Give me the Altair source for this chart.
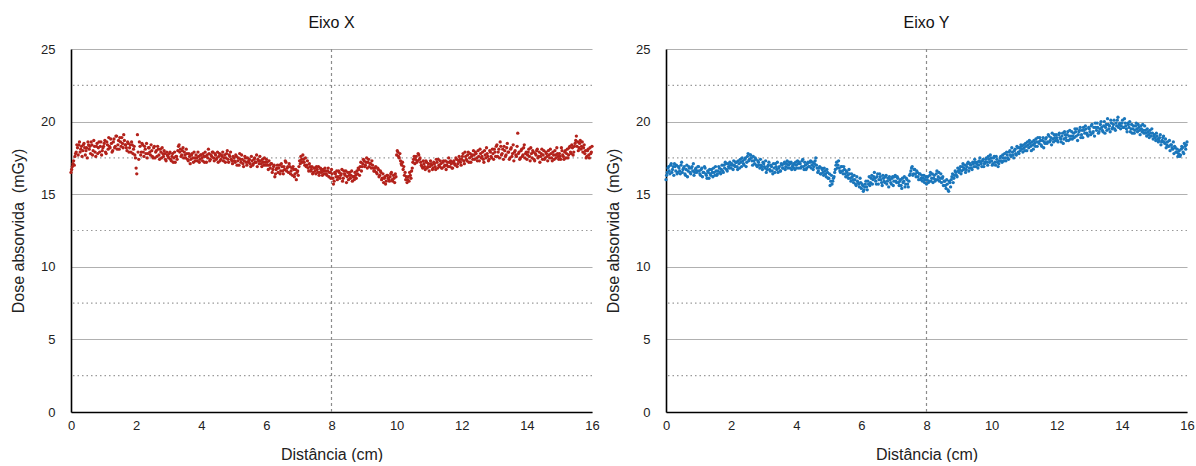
import altair as alt
import pandas as pd

# ---------------- data ----------------
STEP_CM = 0.04    # spacing of the sampled positions along the distance axis
MID_SHIFT = 0.02  # second set of readings sits half a step later

# Eixo X panel: dose (mGy) at 0.00, 0.04, ... cm (one row per centimetre)
dose_eixo_x = [
    16.5, 16.9, 17.3, 17.6, 17.9, 18.2, 18.4, 17.9, 18.3, 18.0, 18.5, 17.7, 18.2, 18.6, 18.1, 17.8, 18.4, 18.0, 18.3, 17.6, 18.5, 18.2, 17.9, 18.6, 18.0,
    18.3, 18.7, 17.8, 18.4, 18.9, 18.2, 18.5, 18.0, 18.8, 18.3, 19.0, 18.4, 18.1, 18.6, 18.9, 18.2, 18.7, 18.4, 18.0, 18.5, 18.2, 17.9, 18.4, 18.1, 17.7,
    16.8, 19.1, 17.4, 18.3, 17.9, 18.4, 17.6, 18.1, 18.5, 17.8, 18.2, 17.7, 18.0, 17.5, 18.3, 17.9, 17.6, 18.1, 17.4, 17.9, 18.2, 17.6, 17.8, 17.3, 17.7,
    17.5, 17.9, 17.3, 17.8, 17.5, 17.2, 17.6, 18.0, 18.4, 18.1, 17.7, 18.2, 17.9, 17.5, 17.8, 17.3, 17.6, 17.4, 17.8, 17.2, 17.5, 17.7, 17.3, 17.6, 17.4,
    17.7, 17.3, 17.6, 17.9, 17.2, 17.5, 17.8, 17.4, 17.6, 17.9, 17.3, 17.7, 17.5, 17.2, 17.8, 17.4, 17.6, 17.3, 17.7, 17.5, 18.0, 17.2, 17.6, 17.4, 17.1,
    17.5, 17.2, 17.6, 17.3, 17.0, 17.4, 17.7, 17.1, 17.3, 17.5, 17.0, 17.2, 17.4, 16.9, 17.3, 17.1, 17.5, 17.2, 16.9, 17.3, 17.6, 17.1, 17.4, 17.0, 17.2,
    17.4, 17.0, 17.3, 16.8, 17.1, 16.7, 17.0, 16.4, 16.8, 16.5, 17.0, 16.6, 16.9, 16.4, 16.7, 17.2, 16.8, 16.5, 16.9, 16.6, 16.3, 16.7, 16.4, 16.0, 16.6,
    16.9, 17.1, 17.4, 17.7, 17.2, 17.5, 17.0, 16.8, 17.1, 16.6, 16.9, 16.5, 16.8, 16.4, 16.7, 16.9, 16.5, 16.7, 16.3, 16.6, 16.8, 16.4, 16.6, 16.2, 16.5,
    16.7, 16.1, 15.9, 16.4, 16.6, 16.2, 16.5, 16.3, 16.7, 16.1, 16.4, 16.6, 16.2, 16.0, 16.5, 16.3, 15.9, 16.2, 16.5, 16.1, 16.4, 16.7, 16.9, 16.6, 17.1,
    17.3, 17.0, 17.5, 17.2, 16.9, 17.1, 17.3, 16.8, 16.6, 16.9, 16.4, 16.7, 16.3, 16.5, 16.1, 15.8, 16.2, 15.9, 16.3, 16.0, 16.2, 16.5, 15.9, 16.1, 16.4,
    17.7, 17.9, 17.5, 17.3, 17.0, 16.7, 16.3, 16.0, 15.8, 16.2, 16.5, 16.1, 16.8, 17.4, 17.1, 17.6, 17.3, 17.7, 17.5, 17.0, 16.8, 17.1, 16.7, 17.2, 16.9,
    16.6, 17.3, 17.0, 16.8, 17.1, 16.7, 17.2, 17.4, 16.9, 17.1, 16.8, 17.3, 17.0, 16.7, 17.2, 17.5, 16.9, 17.1, 16.8, 17.3, 17.0, 17.4, 17.1, 17.6, 17.2,
    17.4, 17.8, 17.1, 17.6, 17.3, 17.9, 17.5, 17.2, 17.7, 18.0, 17.4, 17.8, 17.3, 17.6, 18.1, 17.5, 17.9, 17.2, 17.7, 18.2, 17.6, 17.4, 17.9, 17.5, 17.8,
    18.1, 17.6, 18.4, 17.9, 17.5, 18.3, 17.8, 17.4, 18.0, 17.7, 18.5, 17.9, 17.5, 18.2, 17.8, 17.3, 18.0, 17.6, 19.2, 17.9, 17.5, 18.1, 17.7, 18.4, 17.8,
    17.4, 17.9, 17.6, 18.2, 17.5, 17.9, 17.3, 17.7, 18.1, 17.6, 17.2, 17.8, 17.4, 18.0, 17.5, 17.8, 17.3, 17.7, 18.1, 17.5, 17.9, 17.4, 17.7, 18.2, 17.6,
    17.8, 17.4, 18.0, 17.6, 17.9, 17.5, 18.1, 17.7, 18.3, 17.8, 18.2, 17.9, 18.5, 19.0, 18.6, 18.2, 18.7, 18.3, 17.9, 18.4, 18.0, 17.6, 18.1, 17.5, 17.8,
    18.3,
]

# Eixo X panel: dose (mGy) at 0.02, 0.06, ... cm
dose_eixo_x_mid = [
    16.7, 17.1, 17.0, 17.8, 18.4, 17.7, 18.6, 18.1, 17.6, 18.4, 18.2, 18.0, 17.5, 18.4, 18.3, 18.6, 17.7, 18.7, 17.9, 18.3, 17.8, 18.6, 18.3, 17.7, 18.2,
    18.5, 17.9, 18.6, 18.1, 18.3, 18.8, 17.9, 18.6, 18.2, 19.0, 18.1, 18.7, 18.9, 18.3, 18.5, 19.1, 18.4, 18.2, 18.6, 17.9, 18.4, 18.6, 17.8, 18.3, 17.5,
    16.4, 17.9, 18.6, 17.7, 18.5, 17.9, 18.3, 17.8, 17.5, 18.2, 17.9, 18.4, 17.6, 18.2, 17.5, 18.0, 18.3, 17.7, 18.1, 17.5, 17.8, 18.0, 17.4, 17.9, 17.6,
    17.8, 17.4, 17.6, 17.2, 17.9, 17.6, 17.4, 18.3, 17.9, 17.6, 18.0, 17.5, 17.7, 18.1, 17.4, 17.8, 17.1, 17.7, 17.5, 17.9, 17.3, 17.5, 17.9, 17.2, 17.7,
    17.5, 17.8, 17.2, 17.6, 17.7, 18.1, 17.3, 17.7, 17.9, 17.5, 17.8, 17.4, 17.9, 17.6, 17.3, 17.7, 17.9, 17.5, 17.2, 17.8, 17.4, 17.7, 17.9, 17.3, 17.6,
    17.3, 17.7, 17.0, 17.5, 17.8, 17.2, 17.4, 16.9, 17.6, 17.2, 17.5, 17.3, 17.1, 17.6, 17.0, 17.4, 17.2, 17.7, 17.4, 17.1, 17.3, 16.9, 17.2, 17.5, 17.0,
    17.2, 16.7, 17.0, 17.1, 16.5, 16.9, 16.2, 16.7, 17.0, 16.8, 16.4, 17.1, 16.6, 16.9, 17.3, 16.6, 16.9, 17.1, 16.4, 16.8, 16.9, 16.2, 16.7, 16.5, 16.3,
    17.3, 17.6, 17.2, 17.4, 17.0, 16.9, 17.3, 16.6, 16.9, 16.7, 16.4, 16.8, 16.6, 16.9, 16.5, 16.3, 16.8, 16.5, 16.7, 16.4, 16.6, 16.3, 16.8, 16.5, 16.1,
    16.4, 15.7, 16.5, 16.2, 16.0, 16.6, 16.1, 16.4, 15.9, 16.6, 16.3, 15.8, 16.5, 16.3, 16.1, 16.6, 16.2, 16.0, 16.3, 16.6, 16.8, 16.3, 17.2, 16.9, 17.4,
    16.9, 17.2, 16.8, 17.4, 17.1, 16.8, 17.0, 16.6, 16.8, 16.5, 16.8, 16.2, 16.6, 16.0, 16.4, 16.1, 15.7, 16.3, 16.1, 15.9, 16.4, 16.0, 16.3, 15.8, 16.2,
    18.0, 17.6, 17.8, 17.1, 17.2, 16.9, 16.5, 16.2, 16.0, 15.9, 16.3, 16.6, 17.2, 17.6, 17.4, 17.2, 17.8, 17.4, 17.2, 16.9, 17.3, 16.9, 17.3, 16.8, 17.1,
    16.9, 17.1, 16.7, 17.2, 16.9, 17.4, 16.8, 17.0, 17.3, 16.8, 17.2, 16.9, 17.3, 17.0, 16.9, 17.2, 17.3, 16.8, 17.2, 17.1, 17.5, 16.9, 17.3, 17.4, 17.0,
    17.6, 17.3, 17.9, 17.4, 17.7, 17.2, 17.8, 17.6, 17.4, 17.7, 17.9, 17.5, 18.0, 17.3, 17.8, 17.6, 17.4, 18.0, 17.5, 17.8, 17.3, 18.0, 17.6, 18.1, 17.4,
    17.9, 18.3, 17.6, 18.1, 18.6, 17.7, 18.1, 18.3, 17.6, 18.2, 17.9, 17.4, 18.1, 17.6, 18.4, 17.9, 17.7, 18.3, 17.8, 17.4, 18.0, 17.6, 18.2, 17.5, 17.9,
    17.7, 18.1, 17.3, 17.8, 18.0, 17.4, 17.8, 18.0, 17.5, 17.9, 17.6, 18.1, 17.7, 17.4, 17.9, 17.6, 18.0, 17.5, 17.8, 17.3, 17.7, 18.0, 17.5, 17.8, 17.4,
    17.6, 18.2, 17.7, 17.4, 18.0, 17.8, 17.5, 18.2, 17.9, 18.4, 17.7, 18.3, 18.7, 18.3, 18.0, 18.5, 18.1, 18.6, 18.2, 17.8, 17.5, 18.0, 17.7, 18.2, 17.9,
]

# Eixo Y panel: dose (mGy) at 0.00, 0.04, ... cm
dose_eixo_y = [
    16.0, 16.5, 16.9, 16.4, 17.1, 16.7, 16.3, 16.9, 17.0, 16.5, 16.8, 16.4, 17.2, 16.7, 16.9, 16.3, 17.0, 16.6, 16.8, 16.4, 16.9, 17.1, 16.5, 16.8, 16.6,
    16.9, 16.4, 16.7, 16.2, 16.5, 16.8, 16.3, 16.6, 16.1, 16.4, 16.7, 16.2, 16.5, 16.9, 16.3, 16.6, 16.8, 16.4, 17.0, 16.5, 16.8, 17.1, 16.6, 16.9, 17.2,
    16.8, 17.0, 17.3, 16.9, 17.2, 16.7, 17.1, 17.4, 16.9, 17.3, 17.0, 17.5, 17.2, 17.8, 17.4, 17.7, 17.3, 17.6, 17.1, 17.4, 16.9, 17.2, 16.8, 17.0, 16.7,
    17.1, 16.8, 16.5, 16.9, 17.2, 16.6, 16.9, 16.4, 16.8, 17.1, 16.7, 16.5, 16.9, 16.6, 17.0, 16.8, 17.2, 16.9, 17.3, 17.0, 16.8, 17.2, 16.9, 17.1, 16.7,
    17.0, 17.3, 16.8, 17.1, 16.9, 17.4, 16.7, 17.0, 16.8, 17.2, 16.9, 17.3, 17.0, 16.7, 17.1, 17.5, 16.8, 16.6, 16.9, 16.4, 16.7, 16.3, 16.6, 16.2, 16.5,
    16.1, 15.6, 16.3, 15.9, 16.2, 16.7, 17.2, 17.0, 16.8, 16.5, 16.9, 16.4, 16.7, 16.2, 16.5, 16.1, 16.4, 15.9, 16.2, 15.8, 16.0, 15.6, 15.9, 15.7, 16.1,
    15.4, 15.6, 15.3, 15.7, 15.5, 15.9, 16.2, 15.8, 16.3, 16.0, 16.5, 15.9, 16.2, 15.7, 16.4, 16.0, 15.6, 16.1, 15.8, 16.3, 15.9, 15.5, 16.0, 15.7, 16.2,
    15.9, 16.3, 15.8, 16.1, 15.6, 16.0, 15.4, 15.8, 16.2, 15.7, 16.0, 15.5, 16.3, 16.6, 16.9, 16.4, 16.7, 16.2, 16.5, 16.0, 16.4, 16.1, 15.9, 16.3, 16.0,
    15.7, 16.2, 15.9, 16.5, 16.1, 15.8, 16.3, 16.0, 16.6, 16.2, 15.9, 16.4, 16.1, 15.6, 15.9, 15.4, 15.7, 15.2, 15.8, 16.0, 16.4, 16.1, 16.6, 16.3, 16.8,
    16.5, 16.9, 16.6, 17.1, 16.8, 16.5, 16.9, 17.2, 16.8, 17.0, 16.7, 17.1, 17.4, 16.9, 17.2, 17.0, 17.5, 17.1, 17.3, 16.9, 17.2, 17.5, 17.0, 17.4, 17.7,
    17.3, 17.1, 17.6, 17.0, 17.4, 16.9, 17.3, 17.6, 17.2, 17.5, 17.8, 17.3, 17.7, 17.4, 18.0, 17.6, 17.9, 17.5, 18.1, 17.7, 18.2, 17.8, 18.0, 18.3, 17.9,
    18.2, 18.5, 18.0, 18.4, 18.7, 18.3, 18.6, 18.1, 18.5, 18.8, 18.3, 18.6, 18.9, 18.4, 18.7, 18.2, 18.5, 18.9, 18.6, 19.0, 18.7, 18.4, 18.8, 19.1, 18.7,
    18.9, 18.6, 19.2, 18.8, 19.0, 18.5, 19.3, 18.9, 19.1, 18.7, 19.4, 19.0, 18.8, 19.2, 19.5, 19.0, 18.7, 19.3, 19.6, 19.1, 18.9, 19.4, 19.7, 19.2, 19.0,
    19.5, 19.1, 19.8, 19.3, 19.0, 19.6, 19.9, 19.2, 19.5, 20.0, 19.4, 19.7, 19.2, 19.8, 20.2, 19.5, 19.3, 19.9, 19.6, 20.1, 19.4, 19.7, 20.3, 19.8, 19.5,
    19.9, 19.6, 20.2, 19.7, 19.3, 19.8, 20.0, 19.5, 19.2, 19.7, 19.4, 19.9, 19.3, 19.6, 19.1, 19.5, 19.8, 19.2, 19.4, 19.0, 19.3, 18.9, 19.2, 19.5, 18.8,
    19.1, 18.7, 19.0, 18.6, 18.9, 18.4, 18.7, 19.0, 18.5, 18.2, 18.6, 18.3, 18.0, 18.4, 18.1, 17.8, 18.2, 17.9, 17.6, 18.0, 17.7, 18.3, 17.9, 18.5, 18.1,
    18.6,
]

# Eixo Y panel: dose (mGy) at 0.02, 0.06, ... cm
dose_eixo_y_mid = [
    16.3, 16.8, 16.6, 17.0, 16.5, 16.9, 17.1, 16.6, 16.4, 16.9, 16.6, 17.0, 16.5, 16.8, 16.4, 16.7, 16.2, 16.9, 16.5, 16.8, 16.6, 16.3, 16.7, 16.5, 16.9,
    16.6, 16.3, 16.8, 16.5, 16.9, 16.4, 16.1, 16.5, 16.7, 16.3, 16.5, 16.8, 16.3, 16.6, 16.4, 16.9, 16.5, 16.7, 16.6, 17.0, 17.2, 16.7, 17.1, 16.8, 17.0,
    17.1, 16.7, 17.0, 17.2, 16.9, 17.3, 16.8, 17.2, 17.5, 17.1, 17.4, 16.9, 17.6, 17.3, 17.7, 17.5, 17.0, 17.3, 17.5, 17.0, 17.3, 17.0, 17.4, 16.9, 17.2,
    16.9, 17.3, 16.7, 17.0, 16.7, 17.0, 16.6, 17.1, 16.5, 16.9, 17.2, 16.8, 16.6, 17.1, 16.8, 17.1, 16.7, 17.1, 16.8, 17.2, 17.1, 16.7, 17.0, 16.8, 17.2,
    16.8, 17.1, 17.2, 16.8, 17.3, 16.9, 17.2, 16.7, 17.1, 16.9, 17.2, 16.8, 17.2, 16.9, 17.3, 17.0, 16.5, 16.8, 16.4, 16.8, 16.5, 16.8, 16.4, 16.7, 16.1,
    16.4, 15.9, 15.7, 16.1, 16.5, 17.0, 16.8, 17.3, 16.6, 16.9, 16.6, 16.9, 16.4, 16.6, 16.3, 16.7, 16.1, 16.4, 16.0, 16.3, 15.7, 16.2, 15.8, 15.5, 15.8,
    15.7, 15.2, 15.5, 15.9, 15.3, 15.7, 15.6, 16.1, 15.7, 16.2, 16.1, 15.7, 16.4, 16.0, 16.2, 15.8, 16.3, 15.9, 16.2, 15.7, 16.1, 16.2, 15.8, 16.1, 15.6,
    16.2, 15.9, 16.2, 15.8, 15.9, 15.6, 16.1, 15.9, 15.5, 16.1, 15.7, 15.9, 16.4, 16.8, 16.3, 16.7, 16.4, 16.6, 16.2, 16.4, 16.0, 16.3, 16.1, 15.8, 16.2,
    16.0, 15.8, 16.3, 15.9, 16.4, 16.1, 15.9, 16.4, 16.0, 16.5, 16.1, 15.8, 16.2, 15.9, 15.6, 16.0, 15.3, 15.9, 15.5, 16.2, 15.8, 16.3, 16.5, 16.2, 16.6,
    16.7, 16.4, 16.9, 16.7, 17.0, 16.7, 17.1, 16.6, 17.1, 16.8, 17.2, 16.9, 17.2, 17.1, 16.8, 17.3, 17.2, 16.9, 17.4, 17.1, 17.4, 17.2, 17.6, 17.2, 17.5,
    17.0, 17.5, 17.2, 17.6, 17.2, 17.1, 17.5, 17.3, 17.7, 17.3, 17.5, 17.9, 17.5, 17.9, 17.7, 18.2, 17.7, 18.0, 17.8, 18.3, 17.9, 18.2, 18.4, 18.1, 18.4,
    18.0, 18.3, 18.6, 18.2, 18.5, 18.0, 18.4, 18.7, 18.3, 18.6, 18.9, 18.5, 18.7, 18.3, 18.9, 18.6, 18.8, 18.5, 19.1, 18.6, 18.9, 19.2, 18.6, 18.9, 19.1,
    18.7, 19.1, 18.9, 18.6, 19.2, 18.8, 19.1, 18.7, 19.3, 19.0, 18.8, 19.3, 19.0, 18.9, 19.3, 19.5, 19.1, 19.4, 18.9, 19.4, 19.6, 19.2, 19.5, 19.1, 19.6,
    19.3, 19.7, 19.2, 19.6, 19.9, 19.4, 19.6, 19.3, 19.8, 19.6, 19.3, 20.0, 19.6, 19.4, 19.8, 19.7, 20.1, 19.5, 19.8, 19.5, 19.9, 20.1, 19.6, 19.9, 19.7,
    20.1, 19.6, 19.9, 19.5, 19.9, 19.6, 19.3, 19.8, 19.5, 19.2, 19.7, 19.5, 19.8, 19.4, 19.7, 19.3, 19.4, 19.7, 19.2, 19.5, 19.1, 19.4, 19.0, 19.2, 19.0,
    18.9, 19.2, 18.8, 18.7, 19.1, 18.6, 18.9, 18.6, 18.8, 18.4, 18.3, 18.7, 18.4, 18.2, 18.6, 18.3, 17.9, 18.1, 17.8, 17.6, 18.1, 18.2, 17.8, 18.3, 18.4,
]

panel_titles = ["Eixo X", "Eixo Y"]
panel_colors = ["#b3221b", "#1a76bb"]
x_ticks = [0, 2, 4, 6, 8, 10, 12, 14, 16]
y_ticks = [0, 5, 10, 15, 20, 25]
y_minor = [2.5, 7.5, 12.5, 17.5, 22.5]
x_center_line = [8]

FONT = "Liberation Sans"
X_TITLE = "Distância (cm)"
Y_TITLE = "Dose absorvida\u00a0 (mGy)"


def readings(values, values_mid):
    a = pd.DataFrame({"dist": [round(i * STEP_CM, 2) for i in range(len(values))],
                      "dose": values})
    b = pd.DataFrame({"dist": [round(MID_SHIFT + i * STEP_CM, 2) for i in range(len(values_mid))],
                      "dose": values_mid})
    return pd.concat([a, b], ignore_index=True)


def panel(df, color, title):
    xscale = alt.Scale(domain=[0, 16], nice=False, zero=False)
    yscale = alt.Scale(domain=[0, 25], nice=False)
    xaxis = alt.Axis(values=x_ticks, ticks=False, grid=False, labelPadding=7,
                     labelFlush=False, title=X_TITLE, titlePadding=14, format="d")
    yaxis = alt.Axis(values=y_ticks, ticks=False, grid=True, labelPadding=16,
                     title=Y_TITLE, titlePadding=14, format="d")

    pts = alt.Chart(df).mark_circle(size=11, color=color, opacity=1).encode(
        x=alt.X("dist:Q", scale=xscale, axis=xaxis),
        y=alt.Y("dose:Q", scale=yscale, axis=yaxis),
    )

    minor = alt.Chart(pd.DataFrame({"dose": y_minor})).mark_rule(
        color="#9a9a9a", strokeDash=[1.5, 3], strokeWidth=1.2
    ).encode(y=alt.Y("dose:Q", scale=yscale, axis=yaxis))

    vline = alt.Chart(pd.DataFrame({"dist": x_center_line})).mark_rule(
        color="#8c8c8c", strokeDash=[3, 3], strokeWidth=1.2
    ).encode(x=alt.X("dist:Q", scale=xscale, axis=xaxis))

    return alt.layer(minor, vline, pts).properties(
        width=521, height=363,
        title=alt.TitleParams(title, fontSize=16, fontWeight="normal", font=FONT,
                              color="#111111", anchor="middle", offset=12),
    )


chart = alt.hconcat(
    panel(readings(dose_eixo_x, dose_eixo_x_mid), panel_colors[0], panel_titles[0]),
    panel(readings(dose_eixo_y, dose_eixo_y_mid), panel_colors[1], panel_titles[1]),
    spacing=5,
).properties(
    padding={"left": 10, "top": 15, "right": 0, "bottom": 0},
    background="white",
).configure_view(stroke=None).configure_axis(
    labelFont=FONT, labelFontSize=13, labelColor="#222222",
    titleFont=FONT, titleFontSize=16, titleFontWeight="normal", titleColor="#222222",
    domainColor="#000000", domainWidth=1.6,
    gridColor="#b0b0b0", gridWidth=1.2,
)

chart.save("out.html", embed_options={"renderer": "svg", "actions": False})
